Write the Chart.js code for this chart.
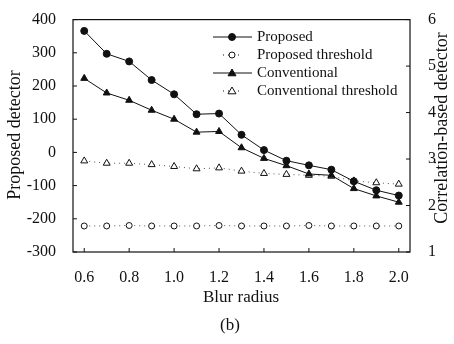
<!DOCTYPE html>
<html lang="en">
<head>
    <meta charset="UTF-8">
    <title>Blur radius - detectors</title>
    <script src="https://cdn.jsdelivr.net/npm/chart.js"></script>
    <style>
        body { margin: 0; background: #fff; }
        #grafico { display: block; }
    </style>
</head>
<body>
    <canvas id="grafico" width="454" height="344"></canvas>

<script>
    // dados
    const blurRadius = [0.6, 0.7, 0.8, 0.9, 1.0, 1.1, 1.2, 1.3, 1.4, 1.5, 1.6, 1.7, 1.8, 1.9, 2.0];
    const proposed = [366, 297, 274, 218, 175, 115, 117, 53, 7, -25, -39, -52, -87, -114, -130];
    const conventional = [223, 179, 157, 127, 100, 61, 63, 14, -18, -40, -65, -69, -109, -131, -150];
    const proposedThreshold = [1.56, 1.56, 1.57, 1.56, 1.56, 1.56, 1.57, 1.56, 1.56, 1.56, 1.57, 1.56, 1.56, 1.56, 1.56];
    const conventionalThreshold = [2.96, 2.91, 2.91, 2.88, 2.84, 2.79, 2.81, 2.74, 2.69, 2.67, 2.65, 2.63, 2.53, 2.49, 2.46];

    const xTicks = [0.6, 0.8, 1.0, 1.2, 1.4, 1.6, 1.8, 2.0];
    const leftTicks = [-300, -200, -100, 0, 100, 200, 300, 400];
    const rightTicks = [1, 2, 3, 4, 5, 6];

    const serif = '"Liberation Serif", "DejaVu Serif", serif';
    const preto = '#111';

    function pares(valores) {
        return blurRadius.map((x, i) => ({ x: x, y: valores[i] }));
    }

    const legenda = [
        { label: 'Proposed', solid: true, style: 'circle', fill: preto, r: 3.5 },
        { label: 'Proposed threshold', solid: false, style: 'circle', fill: '#fff', r: 3 },
        { label: 'Conventional', solid: true, style: 'triangle', fill: preto, r: 4 },
        { label: 'Conventional threshold', solid: false, style: 'triangle', fill: '#fff', r: 4 }
    ];

    function drawMarker(ctx, style, x, y, r) {
        if (style === 'circle') {
            ctx.arc(x, y, r, 0, Math.PI * 2);
        } else {
            ctx.moveTo(x, y - r);
            ctx.lineTo(x + r, y + r * 0.7);
            ctx.lineTo(x - r, y + r * 0.7);
            ctx.closePath();
        }
    }

    // moldura, ticks para dentro, legenda e titulos
    const extras = {
        id: 'extras',
        afterDraw(chart) {
            const ctx = chart.ctx;
            const a = chart.chartArea;
            const sx = chart.scales.x, sy = chart.scales.y, sy1 = chart.scales.y1;
            ctx.save();
            ctx.strokeStyle = preto;
            ctx.lineWidth = 1.2;
            ctx.strokeRect(a.left, a.top, a.right - a.left, a.bottom - a.top);

            ctx.lineWidth = 1;
            ctx.beginPath();
            xTicks.forEach(v => {
                const px = sx.getPixelForValue(v);
                ctx.moveTo(px, a.bottom); ctx.lineTo(px, a.bottom - 4);
            });
            leftTicks.forEach(v => {
                const py = sy.getPixelForValue(v);
                ctx.moveTo(a.left, py); ctx.lineTo(a.left + 4, py);
            });
            rightTicks.forEach(v => {
                const py = sy1.getPixelForValue(v);
                ctx.moveTo(a.right, py); ctx.lineTo(a.right - 4, py);
            });
            ctx.stroke();

            // legenda
            const ly = [37, 55, 73, 91];
            legenda.forEach((item, i) => {
                const y = ly[i];
                ctx.beginPath();
                ctx.lineWidth = 1;
                ctx.strokeStyle = preto;
                if (item.solid) {
                    ctx.setLineDash([]);
                    ctx.moveTo(213, y); ctx.lineTo(252, y);
                } else {
                    ctx.setLineDash([1, 4]);
                    ctx.moveTo(223, y); ctx.lineTo(241, y);
                }
                ctx.stroke();
                ctx.setLineDash([]);
                ctx.fillStyle = item.fill;
                ctx.beginPath();
                drawMarker(ctx, item.style, 232, y, item.r);
                ctx.fill();
                ctx.stroke();
                ctx.fillStyle = preto;
                ctx.font = '15px ' + serif;
                ctx.textBaseline = 'middle';
                ctx.textAlign = 'left';
                ctx.fillText(item.label, 257, y);
            });

            // titulos
            ctx.fillStyle = preto;
            ctx.textAlign = 'center';
            ctx.textBaseline = 'middle';
            ctx.font = '17px ' + serif;
            ctx.fillText('Blur radius', 241, 298);
            ctx.fillText('(b)', 230, 326);

            ctx.font = '18px ' + serif;
            ctx.save();
            ctx.translate(15, 135);
            ctx.rotate(-Math.PI / 2);
            ctx.fillText('Proposed detector', 0, 0);
            ctx.restore();

            ctx.save();
            ctx.translate(442, 128);
            ctx.rotate(-Math.PI / 2);
            ctx.fillText('Correlation-based detector', 0, 0);
            ctx.restore();

            ctx.restore();
        }
    };

    new Chart(document.getElementById('grafico'), {
        type: 'line',
        data: {
            datasets: [{
                label: 'Proposed',
                data: pares(proposed),
                yAxisID: 'y',
                borderColor: preto,
                borderWidth: 1,
                pointStyle: 'circle',
                pointRadius: 3.5,
                pointBackgroundColor: preto,
                pointBorderColor: preto,
                tension: 0
            },
            {
                label: 'Proposed threshold',
                data: pares(proposedThreshold),
                yAxisID: 'y1',
                borderColor: '#555',
                borderWidth: 1,
                borderDash: [1, 4],
                pointStyle: 'circle',
                pointRadius: 3,
                pointBackgroundColor: '#fff',
                pointBorderColor: preto,
                pointBorderWidth: 1,
                tension: 0
            },
            {
                label: 'Conventional',
                data: pares(conventional),
                yAxisID: 'y',
                borderColor: preto,
                borderWidth: 1,
                pointStyle: 'triangle',
                pointRadius: 4,
                pointBackgroundColor: preto,
                pointBorderColor: preto,
                tension: 0
            },
            {
                label: 'Conventional threshold',
                data: pares(conventionalThreshold),
                yAxisID: 'y1',
                borderColor: '#555',
                borderWidth: 1,
                borderDash: [1, 4],
                pointStyle: 'triangle',
                pointRadius: 4,
                pointBackgroundColor: '#fff',
                pointBorderColor: preto,
                pointBorderWidth: 1,
                tension: 0
            }]
        },
        options: {
            responsive: false,
            animation: false,
            layout: { padding: { top: 15, left: 0, right: 0, bottom: 0 } },
            plugins: {
                legend: { display: false },
                tooltip: { enabled: false }
            },
            scales: {
                x: {
                    type: 'linear',
                    min: 0.55,
                    max: 2.05,
                    afterBuildTicks: s => { s.ticks = xTicks.map(v => ({ value: v })); },
                    afterFit: s => { s.height = 92; },
                    grid: { display: false },
                    border: { display: false },
                    ticks: {
                        color: preto,
                        padding: 8,
                        maxRotation: 0,
                        font: { family: serif, size: 16 },
                        callback: v => v.toFixed(1)
                    }
                },
                y: {
                    position: 'left',
                    min: -300,
                    max: 400,
                    afterBuildTicks: s => { s.ticks = leftTicks.map(v => ({ value: v })); },
                    afterFit: s => { s.width = 73; },
                    grid: { display: false },
                    border: { display: false },
                    ticks: {
                        color: preto,
                        padding: 9,
                        font: { family: serif, size: 16 }
                    }
                },
                y1: {
                    position: 'right',
                    min: 1,
                    max: 6,
                    afterBuildTicks: s => { s.ticks = rightTicks.map(v => ({ value: v })); },
                    afterFit: s => { s.width = 44; },
                    grid: { display: false },
                    border: { display: false },
                    ticks: {
                        color: preto,
                        padding: 10,
                        font: { family: serif, size: 16 }
                    }
                }
            }
        },
        plugins: [extras]
    });
</script>
</body>
</html>
